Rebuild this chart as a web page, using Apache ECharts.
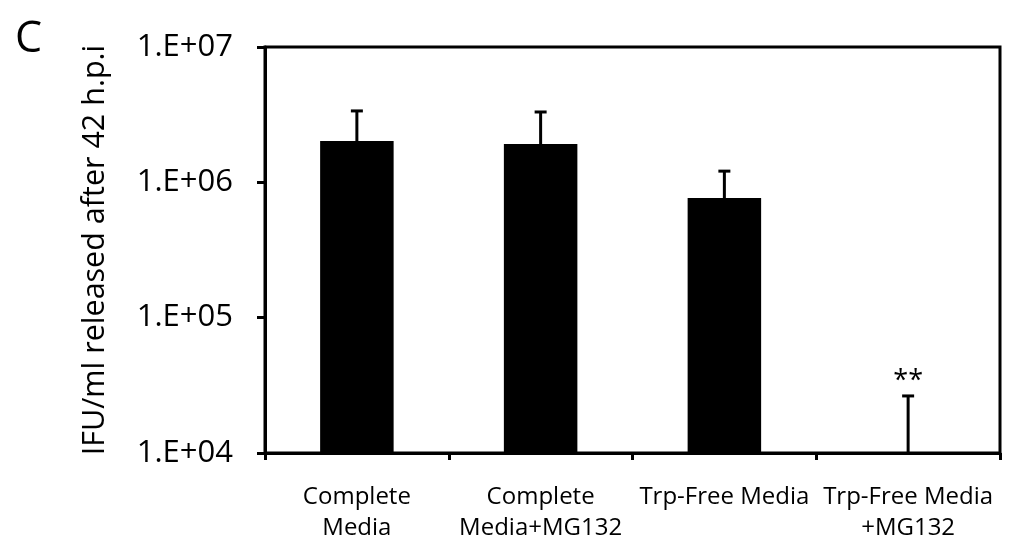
<!DOCTYPE html>
<html>
<head>
<meta charset="utf-8">
<script src="https://cdn.jsdelivr.net/npm/echarts@6/dist/echarts.min.js"></script>
<style>
    html, body { margin: 0; padding: 0; background: #fff; }
    #main { width: 1016px; height: 546px; }
</style>
</head>
<body>
<div id="main"></div>
<script>
    // categories and values
    var categories = ['Complete\nMedia', 'Complete\nMedia+MG132', 'Trp-Free Media', 'Trp-Free Media\n+MG132'];
    var means = [2.02e6, 1.92e6, 7.66e5, null];      // last bar is below the axis floor
    var errTops = [3.37e6, 3.31e6, 1.21e6, 2.64e4];   // mean + SD
    var marks = ['', '', '', '**'];
    var yTicks = [1e4, 1e5, 1e6, 1e7];
    var yTickLabels = ['1.E+04', '1.E+05', '1.E+06', '1.E+07'];

    var chart = echarts.init(document.getElementById('main'));
    var fontFam = '"Open Sans", "Noto Sans", sans-serif';

    var errData = categories.map(function (c, i) {
        return [i, means[i] == null ? 0 : means[i], errTops[i]];
    });

    var option = {
        backgroundColor: '#fff',
        animation: false,
        title: {
            text: 'C',
            left: 10,
            top: 13,
            textStyle: { fontFamily: fontFam, fontSize: 43, fontWeight: 'normal', color: '#000' }
        },
        grid: {
            left: 265, right: 16, top: 47, bottom: 93,
            show: true,
            borderColor: '#000',
            borderWidth: 3,
            backgroundColor: 'transparent'
        },
        xAxis: {
            type: 'category',
            data: categories,
            axisLine: { lineStyle: { color: '#000', width: 3 } },
            axisTick: { show: true, length: 7, lineStyle: { color: '#000', width: 3 } },
            axisLabel: {
                color: '#000',
                fontFamily: fontFam,
                fontSize: 24,
                lineHeight: 31,
                margin: 29,
                interval: 0
            }
        },
        yAxis: {
            type: 'log',
            logBase: 10,
            min: 1e4,
            max: 1e7,
            name: 'IFU/ml released after 42 h.p.i',
            nameLocation: 'middle',
            nameGap: 154,
            nameTextStyle: { color: '#000', fontFamily: fontFam, fontSize: 30.5 },
            axisLine: { show: true, lineStyle: { color: '#000', width: 3 } },
            axisTick: { show: true, length: 8, lineStyle: { color: '#000', width: 3 } },
            splitLine: { show: false },
            axisLabel: {
                color: '#000',
                fontFamily: fontFam,
                fontSize: 31,
                margin: 32,
                formatter: function (v) {
                    var k = yTicks.indexOf(v);
                    return k >= 0 ? yTickLabels[k] : '';
                }
            }
        },
        series: [
            {
                type: 'bar',
                data: means.map(function (v) { return v == null ? '-' : v; }),
                barWidth: '40%',
                itemStyle: { color: '#000' },
                z: 2
            },
            {
                type: 'custom',
                data: errData,
                z: 3,
                renderItem: function (params, api) {
                    var i = api.value(0);
                    var cs = params.coordSys;
                    var bottom = cs.y + cs.height;
                    var lo = api.value(1) > 0 ? api.coord([i, api.value(1)]) : [api.coord([i, 1e4])[0], bottom];
                    var hi = api.coord([i, api.value(2)]);
                    var x = lo[0];
                    var yLo = Math.min(lo[1], bottom);
                    var children = [
                        {
                            type: 'line',
                            shape: { x1: x, y1: yLo, x2: x, y2: hi[1] },
                            style: { stroke: '#000', lineWidth: 3 }
                        },
                        {
                            type: 'line',
                            shape: { x1: x - 6, y1: hi[1], x2: x + 6, y2: hi[1] },
                            style: { stroke: '#000', lineWidth: 3 }
                        }
                    ];
                    if (marks[params.dataIndex]) {
                        children.push({
                            type: 'text',
                            style: {
                                text: marks[params.dataIndex],
                                x: x,
                                y: hi[1] - 1,
                                align: 'center',
                                verticalAlign: 'bottom',
                                fill: '#000',
                                fontSize: 27,
                                fontFamily: fontFam
                            }
                        });
                    }
                    return { type: 'group', children: children };
                }
            }
        ]
    };

    chart.setOption(option);
</script>
</body>
</html>
